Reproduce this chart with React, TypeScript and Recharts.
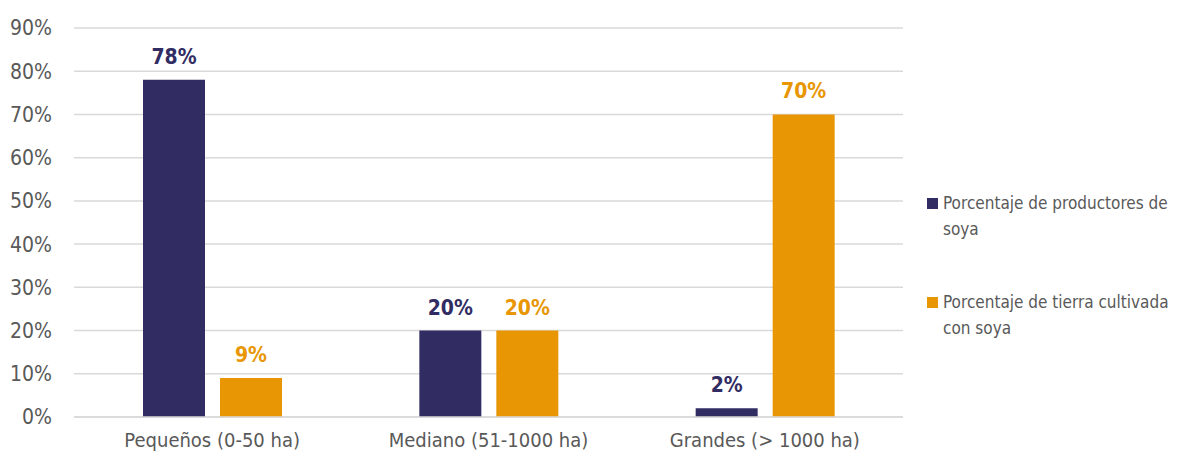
import * as React from "react";
import {
  BarChart,
  Bar,
  XAxis,
  YAxis,
  CartesianGrid,
  LabelList,
} from "recharts";

const categories = ["Pequeños (0-50 ha)", "Mediano (51-1000 ha)", "Grandes (> 1000 ha)"];
const productores = [78, 20, 2];
const tierra = [9, 20, 70];
const yTicks = [0, 10, 20, 30, 40, 50, 60, 70, 80, 90];
const legendLines = [
  ["Porcentaje de productores de", "soya"],
  ["Porcentaje de tierra cultivada", "con soya"],
];

const NAVY = "#312D63";
const ORANGE = "#E89604";
const FONT = "'DejaVu Sans Condensed', 'DejaVu Sans', sans-serif";

const data = categories.map((name, i) => ({
  name,
  productores: productores[i],
  tierra: tierra[i],
}));

const textBase = { fontFamily: FONT, fontStretch: "condensed" as const };

function LegendBox() {
  const colors = [NAVY, ORANGE];
  return (
    <div
      style={{
        position: "absolute",
        left: 927,
        top: 190,
        ...textBase,
        fontSize: 17,
        color: "#595959",
        whiteSpace: "nowrap",
      }}
    >
      {legendLines.map((lines, i) => (
        <div key={i} style={{ display: "flex", alignItems: "flex-start", marginBottom: i === 0 ? 47 : 0 }}>
          <div
            style={{ width: 11, height: 11, background: colors[i], marginTop: 8, marginRight: 5, flexShrink: 0 }}
          />
          <div style={{ lineHeight: "26px" }}>
            {lines.map((l, j) => (
              <div key={j}>{l}</div>
            ))}
          </div>
        </div>
      ))}
    </div>
  );
}

export default function App() {
  return (
    <div style={{ position: "absolute", left: 0, top: 0, width: 1187, height: 458, background: "#fff" }}>
      <BarChart
        width={1187}
        height={458}
        data={data}
        margin={{ top: 28, right: 284, left: 0, bottom: 0 }}
        barSize={62}
        barGap={15}
      >
        <CartesianGrid vertical={false} stroke="#D9D9D9" strokeWidth={1.5} />
        <XAxis
          dataKey="name"
          height={41}
          interval={0}
          tickLine={false}
          axisLine={{ stroke: "#D9D9D9", strokeWidth: 1.5 }}
          tickMargin={10}
          tick={{ fill: "#595959", fontSize: 20, ...textBase }}
        />
        <YAxis
          width={74}
          domain={[0, 90]}
          ticks={yTicks}
          tickFormatter={(v) => `${v}%`}
          axisLine={false}
          tickLine={false}
          tickMargin={16}
          tick={{ fill: "#595959", fontSize: 21, ...textBase }}
        />
        <Bar dataKey="productores" fill={NAVY} isAnimationActive={false}>
          <LabelList
            dataKey="productores"
            position="top"
            offset={16}
            formatter={(v: number) => `${v}%`}
            style={{ fill: NAVY, fontSize: 21, fontWeight: 700, ...textBase }}
          />
        </Bar>
        <Bar dataKey="tierra" fill={ORANGE} isAnimationActive={false}>
          <LabelList
            dataKey="tierra"
            position="top"
            offset={16}
            formatter={(v: number) => `${v}%`}
            style={{ fill: ORANGE, fontSize: 21, fontWeight: 700, ...textBase }}
          />
        </Bar>
      </BarChart>
      <LegendBox />
    </div>
  );
}
